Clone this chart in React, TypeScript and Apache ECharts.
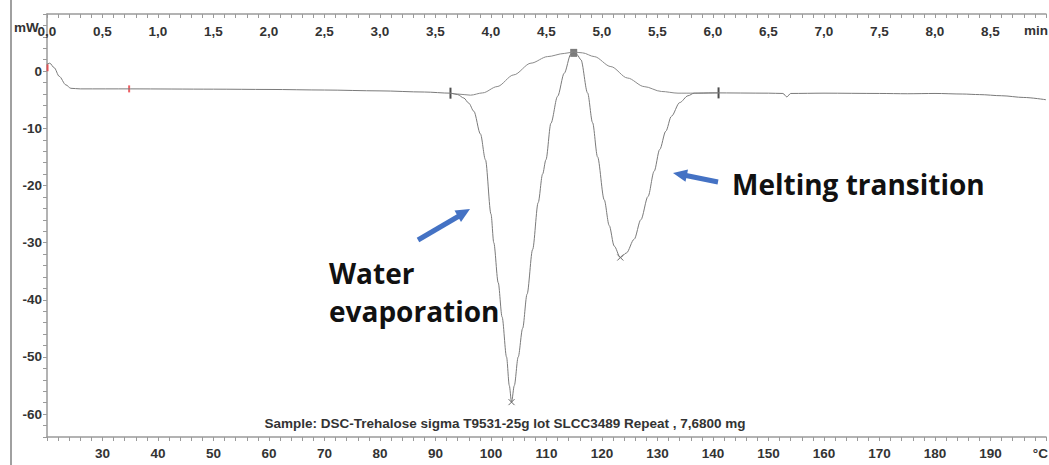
import React, { useEffect, useRef } from "react";
import * as echarts from "echarts";

// Temperature (°C) and heat flow (mW) of the measured DSC trace
const mainTemp = [20.0, 20.5, 21.3, 22.2, 23.4, 24.3, 26, 35, 50, 60, 70, 80, 88, 92.7, 94, 95.1, 96, 96.9, 98.1, 99, 100, 100.5, 101.3, 102, 102.8, 103.3, 103.7, 104.2, 104.9, 105.7, 106.5, 107.5, 108.5, 109.3, 109.9, 110.8, 112.0, 113.2, 114.4, 114.9, 115.5, 116.2, 117.4, 118.3, 119.2, 120.4, 121.3, 122.2, 123.3, 124.4, 125.8, 127, 128.3, 129.4, 130.4, 131.5, 132.5, 134, 135.5, 136.6, 140, 150, 152.6, 153.3, 154, 160, 170, 175, 180, 185, 188, 192, 196, 200];
const mainFlow = [1.2, 1.4, 0.6, -0.9, -2.4, -3.0, -3.1, -3.1, -3.15, -3.2, -3.3, -3.45, -3.65, -3.85, -4.1, -4.7, -5.6, -7.0, -11, -15.5, -25, -30, -37, -43, -50, -55, -57.9, -55, -50, -45, -39, -31.2, -23, -18, -15.5, -9.1, -4.4, -0.35, 3.0, 3.2, 2.9, 2.0, -3.8, -9, -15, -22.5, -27, -30.6, -32.6, -31.8, -29.4, -26, -21.9, -17.5, -13.7, -10.5, -7.9, -5.5, -4.3, -3.85, -3.8, -3.85, -3.9, -4.5, -3.9, -3.85, -3.9, -3.95, -3.9, -4.0, -4.1, -4.3, -4.6, -5.0];

// Second (dome-shaped) trace
const domeTemp = [92.7, 94, 96.3, 98.5, 101.1, 104.1, 107.2, 110.2, 113.2, 114.9, 116.5, 118.6, 121.6, 124.6, 127.6, 130.7, 133.7, 136.6, 141];
const domeFlow = [-3.85, -4.0, -4.2, -3.8, -2.7, -0.65, 1.4, 2.55, 3.1, 3.35, 3.2, 2.55, 0.8, -1.2, -2.7, -3.55, -3.85, -3.85, -3.8];

// Evaluation markers
const redMarks = [[34.8, -3.1], [20.1, 0.6]];
const limitMarks = [[92.7, -3.85], [141, -3.8]];
const peakMarks = [[103.7, -57.9], [123.3, -32.6]];
const topMarks = [[114.9, 3.2]];

// Axis ranges
const tempRange = [20, 200];
const timeRange = [0, 9];
const flowRange = [-64, 10];

const sampleText = "Sample: DSC-Trehalose sigma T9531-25g lot SLCC3489 Repeat , 7,6800 mg";
const annotations = ["Water", "evaporation", "Melting transition"];
const units = { flow: "mW", temp: "°C", time: "min" };

const AXIS_COLOR = "#9a9a9a";
const LABEL_STYLE = { color: "#333", fontWeight: "bold" as const, fontSize: 13.5, fontFamily: "Liberation Sans, Arial, sans-serif" };
const LABEL_FONT = "bold 13.5px 'Liberation Sans', Arial, sans-serif";

export default function App() {
  const ref = useRef<HTMLDivElement>(null);
  useEffect(() => {
    if (!ref.current) return;
    const chart = echarts.init(ref.current, null, { renderer: "svg" });
    const mainData = mainTemp.map((t, i) => [t, mainFlow[i]]);
    const domeData = domeTemp.map((t, i) => [t, domeFlow[i]]);
    const blue = "#4472C4";
    const annFont = "bold 28px 'Open Sans', sans-serif";
    chart.setOption({
      animation: false,
      backgroundColor: "#fff",
      grid: { left: 47, right: 2, top: 14, bottom: 28, containLabel: false },
      xAxis: [
        {
          type: "value",
          position: "bottom",
          min: tempRange[0],
          max: tempRange[1],
          interval: 2,
          axisLine: { show: true, onZero: false, lineStyle: { color: AXIS_COLOR, width: 1.5 } },
          axisTick: { show: true, length: 4, lineStyle: { color: AXIS_COLOR } },
          splitLine: { show: false },
          axisLabel: {
            ...LABEL_STYLE,
            margin: 9,
            formatter: (v: number) => {
              const r = Math.round(v);
              if (r % 10 === 0 && r >= 30 && r <= 190) return String(r);
              return "";
            },
          },
        },
        {
          type: "value",
          position: "top",
          min: timeRange[0],
          max: timeRange[1],
          interval: 0.1,
          axisLine: { show: true, onZero: false, lineStyle: { color: AXIS_COLOR, width: 1.5 } },
          axisTick: { show: true, inside: true, length: 4, lineStyle: { color: AXIS_COLOR } },
          splitLine: { show: false },
          axisLabel: {
            ...LABEL_STYLE,
            inside: true,
            margin: 10,
            formatter: (v: number) => {
              const r = Math.round(v * 10);
              if (r % 5 !== 0 || r >= 90) return "";
              return (r / 10).toFixed(1).replace(".", ",");
            },
          },
        },
      ],
      yAxis: {
        type: "value",
        min: flowRange[0],
        max: flowRange[1],
        interval: 2,
        axisLine: { show: true, onZero: false, lineStyle: { color: AXIS_COLOR, width: 1.5 } },
        axisTick: { show: true, length: 4, lineStyle: { color: AXIS_COLOR } },
        splitLine: { show: false },
        axisLabel: {
          ...LABEL_STYLE,
          margin: 5,
          formatter: (v: number) => {
            const r = Math.round(v);
            if (r % 10 === 0 && r <= 0) return String(r);
            return "";
          },
        },
      },
      series: [
        {
          type: "line",
          data: domeData,
          symbol: "none",
          smooth: 0.3,
          smoothMonotone: "x",
          lineStyle: { color: "#8a8a8a", width: 1 },
          silent: true,
        },
        {
          type: "line",
          data: mainData,
          symbol: "none",
          smooth: 0.3,
          smoothMonotone: "x",
          lineStyle: { color: "#7a7a7a", width: 1 },
          silent: true,
        },
        {
          type: "scatter",
          data: redMarks,
          symbol: "rect",
          symbolSize: [2, 7],
          itemStyle: { color: "#e8383d" },
        },
        {
          type: "scatter",
          data: limitMarks,
          symbol: "rect",
          symbolSize: [2, 11],
          itemStyle: { color: "#222" },
        },
        {
          type: "scatter",
          data: peakMarks,
          symbol: "path://M0,0L10,10M10,0L0,10",
          symbolSize: 6,
          itemStyle: { color: "none", borderColor: "#444", borderWidth: 1 },
        },
        {
          type: "scatter",
          data: topMarks,
          symbol: "rect",
          symbolSize: [7, 8],
          itemStyle: { color: "#666", opacity: 0.85 },
        },
      ],
      graphic: [
        { type: "rect", shape: { x: 10, y: 0, width: 2, height: 465 }, style: { fill: "#a0a0a0" } },
        { type: "text", x: 14, y: 27, style: { text: units.flow, fill: "#333", font: LABEL_FONT, textVerticalAlign: "middle" } },
        { type: "text", x: 1048, y: 30, style: { text: units.time, fill: "#333", font: LABEL_FONT, textAlign: "right", textVerticalAlign: "middle" } },
        { type: "text", x: 1048, y: 453, style: { text: units.temp, fill: "#333", font: LABEL_FONT, textAlign: "right", textVerticalAlign: "middle" } },
        { type: "text", x: 505, y: 423, style: { text: sampleText, fill: "#333", font: LABEL_FONT, textAlign: "center", textVerticalAlign: "middle" } },
        { type: "text", x: 329, y: 273, style: { text: annotations[0], fill: "#111", font: annFont, textVerticalAlign: "middle" } },
        { type: "text", x: 329, y: 311, style: { text: annotations[1], fill: "#111", font: annFont, textVerticalAlign: "middle" } },
        { type: "text", x: 732, y: 184, style: { text: annotations[2], fill: "#111", font: annFont, textVerticalAlign: "middle" } },
        { type: "line", shape: { x1: 418, y1: 240, x2: 459, y2: 216 }, style: { stroke: blue, lineWidth: 5 } },
        { type: "polygon", shape: { points: [[470, 209], [461, 222], [454.5, 210.5]] }, style: { fill: blue } },
        { type: "line", shape: { x1: 718, y1: 182, x2: 686, y2: 175.5 }, style: { stroke: blue, lineWidth: 5 } },
        { type: "polygon", shape: { points: [[673, 173], [688, 169.5], [685.5, 181.8]] }, style: { fill: blue } },
      ],
    });
    return () => chart.dispose();
  }, []);
  return <div ref={ref} style={{ position: "fixed", left: 0, top: 0, width: 1049, height: 465 }} />;
}
